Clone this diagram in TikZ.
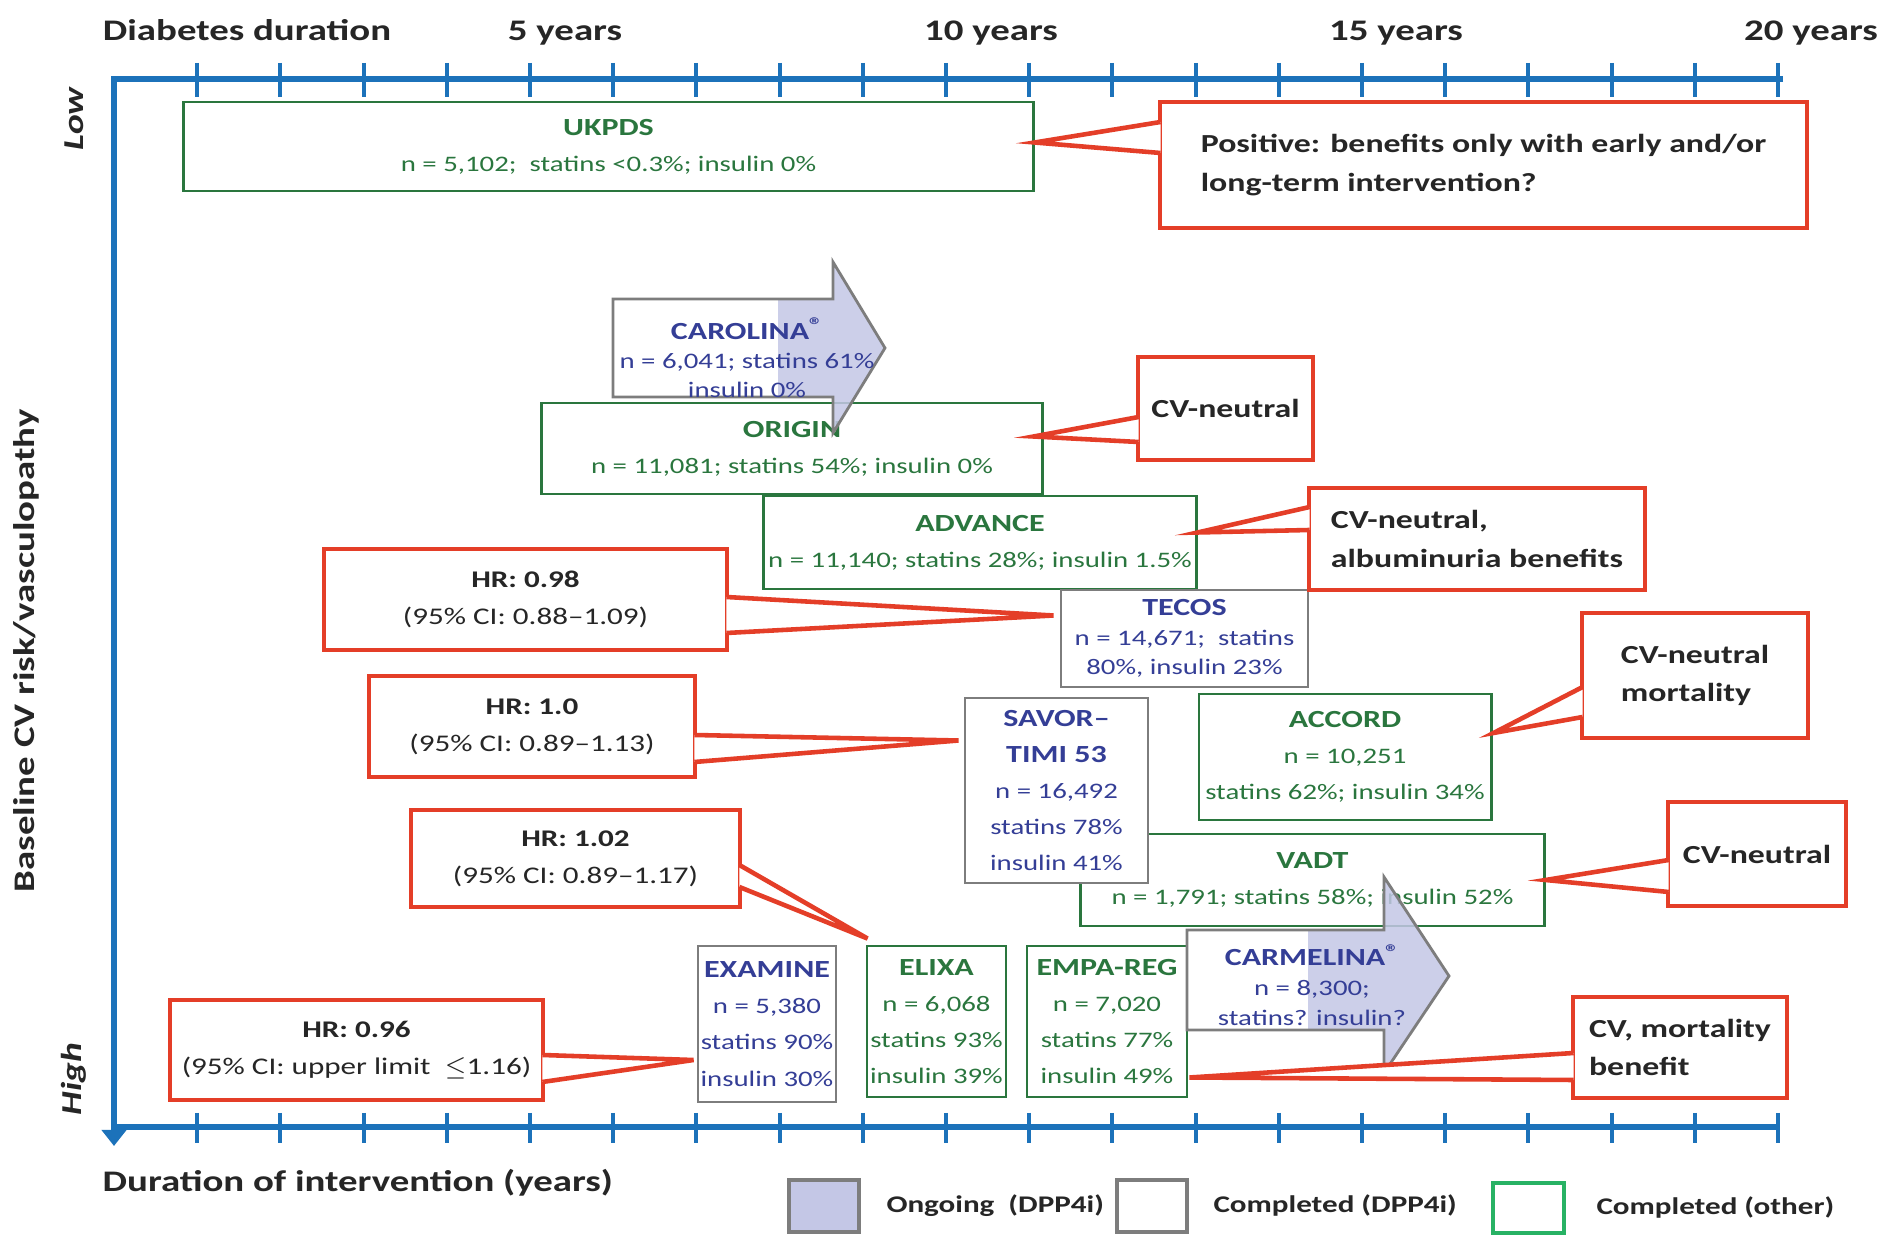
\documentclass[tikz,border=0pt]{standalone}
\usepackage{fontspec}
\setmainfont[FakeStretch=1.3]{Carlito}
\usepackage{xcolor}
\usepackage{tikz}
\usetikzlibrary{arrows.meta}
\usetikzlibrary{calc}
\usetikzlibrary{positioning}

\definecolor{axisblue}{RGB}{28,114,186}
\definecolor{trialgreen}{RGB}{42,118,62}
\definecolor{dppblue}{RGB}{52,62,150}
\definecolor{dppgray}{RGB}{125,125,125}
\definecolor{ongoing}{RGB}{196,199,230}
\definecolor{callred}{RGB}{228,62,40}
\definecolor{calltext}{RGB}{38,38,38}
\definecolor{leggreen}{RGB}{40,178,100}
\newcommand{\trialname}[1]{{\fontsize{7}{10}\selectfont\bfseries #1}}
\newcommand{\regmark}{\raisebox{0.55ex}{\fontsize{6}{6}\selectfont ®}}

\tikzset{
	trial/.style={draw=trialgreen, line width=0.8pt, fill=white, text=trialgreen,
		align=center, inner sep=0pt, font=\fontsize{6.3}{10.3}\selectfont},
	dpp/.style={trial, draw=dppgray, text=dppblue},
	ongoingtext/.style={text=dppblue, align=center, font=\fontsize{6.3}{8.3}\selectfont},
	callout/.style={draw=callred, line width=1.3pt, fill=white, text=calltext,
		inner sep=0pt, align=left, font=\fontsize{7.4}{11}\selectfont\bfseries},
	hrcall/.style={callout, align=center, font=\fontsize{6.8}{10.6}\selectfont},
	callptr/.style={draw=callred, line width=1.3pt, fill=white},
	axis/.style={draw=axisblue, line width=1.6pt},
	axtick/.style={draw=axisblue, line width=1.1pt},
	axlabel/.style={text=calltext, inner sep=0pt, font=\fontsize{8.5}{10}\selectfont\bfseries},
	legbox/.style={line width=1pt, minimum width=0.7cm, minimum height=0.52cm, inner sep=0pt},
	legtext/.style={text=calltext, inner sep=0pt, font=\fontsize{6.8}{8}\selectfont\bfseries}
}

\begin{document}
\begin{tikzpicture}[x=0.01cm, y=-0.01cm]
	\useasboundingbox (0,0) rectangle (1884,1240);
	\fill[white] (0,0) rectangle (1884,1240);

	% axes
	\foreach \i in {1,...,20} {
		\draw[axtick] ({114+83.2*\i},63) -- ++(0,34);
		\draw[axtick] ({114+83.2*\i},1113) -- ++(0,30);
	}
	\draw[axis, -{Triangle[length=0.16cm, width=0.24cm]}] (1783,79) -- (114,79) -- (114,1146);
	\draw[axis] (114,1127) -- (1780,1127);

	\node[axlabel, anchor=base] (durlbl) at (247,41) {Diabetes duration};
	\foreach \yr/\xp in {5/565, 10/991, 15/1396, 20/1811}
		\node[axlabel, anchor=base] (yr\yr) at (\xp,41) {\yr\ years};
	\node[axlabel, anchor=base west] (intlbl) at (102,1192) {Duration of intervention (years)};
	\node[axlabel, rotate=90] (risklbl) at (26,651) {Baseline CV risk/vasculopathy};
	\node[axlabel, rotate=90, font=\fontsize{8.2}{10}\selectfont\bfseries\itshape] (lowlbl) at (74,119) {Low};
	\node[axlabel, rotate=90, font=\fontsize{8.2}{10}\selectfont\bfseries\itshape] (highlbl) at (74,1079) {High};

	% trials
	\node[trial, minimum width=8.49cm, minimum height=0.89cm] (ukpds) at (608.5,146.5)
		{\trialname{UKPDS}\\n = 5,102;~ statins <0.3\%; insulin 0\%};
	\node[trial, minimum width=5.00cm, minimum height=0.91cm] (origin) at (792,448.5)
		{\trialname{ORIGIN}\\n = 11,081; statins 54\%; insulin 0\%};

	\fill[white] (613,299) rectangle (833,397);
	\fill[ongoing, fill opacity=0.85] (778,299) -- (833,299) -- (833,262) -- (885,348)
		-- (833,433) -- (833,397) -- (778,397) -- cycle;
	\draw[dppgray, line width=0.8pt] (613,299) -- (833,299) -- (833,262) -- (885,348)
		-- (833,433) -- (833,397) -- (613,397) -- cycle;
	\node[ongoingtext] (carolina) at (747,358)
		{\trialname{CAROLINA\regmark}\\n = 6,041; statins 61\%\\insulin 0\%};

	\node[trial, minimum width=4.32cm, minimum height=0.93cm] (advance) at (980,542.5)
		{\trialname{ADVANCE}\\n = 11,140; statins 28\%; insulin 1.5\%};
	\node[dpp, minimum width=2.47cm, minimum height=0.97cm, font=\fontsize{6.3}{8.3}\selectfont] (tecos) at (1184.5,638.5)
		{\trialname{TECOS}\\n = 14,671;~ statins\\80\%, insulin 23\%};
	\node[trial, minimum width=4.63cm, minimum height=0.92cm] (vadt) at (1312.5,880)
		{\trialname{VADT}\\n = 1,791; statins 58\%; insulin 52\%};
	\node[dpp, minimum width=1.83cm, minimum height=1.85cm] (savor) at (1056.5,790.5)
		{\trialname{SAVOR–}\\\trialname{TIMI 53}\\n = 16,492\\statins 78\%\\insulin 41\%};
	\node[trial, minimum width=2.92cm, minimum height=1.26cm] (accord) at (1345,757)
		{\trialname{ACCORD}\\n = 10,251\\statins 62\%; insulin 34\%};
	\node[dpp, minimum width=1.38cm, minimum height=1.56cm] (examine) at (767,1024)
		{\trialname{EXAMINE}\\n = 5,380\\statins 90\%\\insulin 30\%};
	\node[trial, minimum width=1.39cm, minimum height=1.51cm] (elixa) at (936.5,1021.5)
		{\trialname{ELIXA}\\n = 6,068\\statins 93\%\\insulin 39\%};
	\node[trial, minimum width=1.60cm, minimum height=1.51cm] (empareg) at (1107,1021.5)
		{\trialname{EMPA-REG}\\n = 7,020\\statins 77\%\\insulin 49\%};

	\fill[white] (1187,930) rectangle (1384,1030);
	\fill[ongoing, fill opacity=0.85] (1308,930) -- (1384,930) -- (1384,877) -- (1449,976)
		-- (1384,1073) -- (1384,1030) -- (1308,1030) -- cycle;
	\draw[dppgray, line width=0.8pt] (1187,930) -- (1384,930) -- (1384,877) -- (1449,976)
		-- (1384,1073) -- (1384,1030) -- (1187,1030) -- cycle;
	\node[ongoingtext, font=\fontsize{6.3}{8.5}\selectfont] (carmelina) at (1312,985)
		{\trialname{CARMELINA\regmark}\\n = 8,300;\\statins? insulin?};

	% callouts
	\node[callout, minimum width=6.47cm, minimum height=1.26cm] (pos) at (1483.5,165)
		{Positive: benefits only with early and/or\\long-term intervention?};
	\filldraw[callptr] ($(pos.west)+(3,-43)$) -- ($(ukpds.east)+(0,-4)$) -- ($(pos.west)+(3,-12)$);

	\node[callout, minimum width=1.75cm, minimum height=1.03cm] (cvo) at (1225.5,408.5) {CV-neutral};
	\filldraw[callptr] ($(cvo.west)+(3,8.5)$) -- ($(origin.east)+(-10,-12)$) -- ($(cvo.west)+(3,33.5)$);

	\node[callout, minimum width=3.36cm, minimum height=1.02cm] (cva) at (1477,539)
		{CV-neutral,\\albuminuria benefits};
	\filldraw[callptr] ($(cva.west)+(3,-32)$) -- ($(advance.east)+(0,-10)$) -- ($(cva.west)+(3,-9)$);

	\node[hrcall, minimum width=4.03cm, minimum height=1.01cm] (hr98) at (525.5,599.5)
		{\textbf{HR: 0.98}\\(95\% CI: 0.88–1.09)};
	\filldraw[callptr] ($(hr98.east)+(-3,-2.5)$) -- ($(tecos.west)+(-6,-23)$) -- ($(hr98.east)+(-3,33.5)$);

	\node[hrcall, minimum width=3.26cm, minimum height=1.01cm] (hr10) at (532,726.5)
		{\textbf{HR: 1.0}\\(95\% CI: 0.89–1.13)};
	\filldraw[callptr] ($(hr10.east)+(-3,8.5)$) -- ($(savor.west)+(-5,-50)$) -- ($(hr10.east)+(-3,35.5)$);

	\node[callout, minimum width=2.26cm, minimum height=1.25cm] (cvm) at (1695,675.5)
		{CV-neutral\\mortality};
	\filldraw[callptr] ($(cvm.west)+(3,11.5)$) -- ($(accord.east)+(1,-24)$) -- ($(cvm.west)+(3,41.5)$);

	\node[callout, align=center, minimum width=1.78cm, minimum height=1.04cm] (cvv) at (1757,854) {CV-neutral};
	\filldraw[callptr] ($(cvv.west)+(3,6)$) -- (vadt.east) -- ($(cvv.west)+(3,38)$);

	\node[hrcall, minimum width=3.29cm, minimum height=0.97cm] (hr102) at (575.5,858.5)
		{\textbf{HR: 1.02}\\(95\% CI: 0.89–1.17)};
	\filldraw[callptr] ($(hr102.east)+(-3,6.5)$) -- ($(elixa.north west)+(2,-6)$) -- ($(hr102.east)+(-3,28.5)$);

	\node[hrcall, minimum width=3.73cm, minimum height=1.00cm] (hr96) at (356.5,1050)
		{\textbf{HR: 0.96}\\(95\% CI: upper limit~ $\le$1.16)};
	\filldraw[callptr] ($(hr96.east)+(-3,5)$) -- ($(examine.west)+(-3,36)$) -- ($(hr96.east)+(-3,32)$);

	\node[callout, minimum width=2.14cm, minimum height=1.01cm] (cvb) at (1680,1047.5)
		{CV, mortality\\benefit};
	\filldraw[callptr] ($(cvb.west)+(3,5.5)$) -- ($(empareg.east)+(1,56)$) -- ($(cvb.west)+(3,32.5)$);

	% legend
	\node[legbox, draw=dppgray, fill=ongoing] (legon) at (824,1206) {};
	\node[legtext, right=0.25cm of legon] (legontxt) {Ongoing~ (DPP4i)};
	\node[legbox, draw=dppgray, fill=white] (legdpp) at (1152,1206) {};
	\node[legtext, right=0.24cm of legdpp] (legdpptxt) {Completed (DPP4i)};
	\node[legbox, draw=leggreen, fill=white, minimum width=0.71cm, minimum height=0.50cm] (legoth) at (1528.5,1208) {};
	\node[legtext, right=0.3cm of legoth] (legothtxt) {Completed (other)};
\end{tikzpicture}
\end{document}
